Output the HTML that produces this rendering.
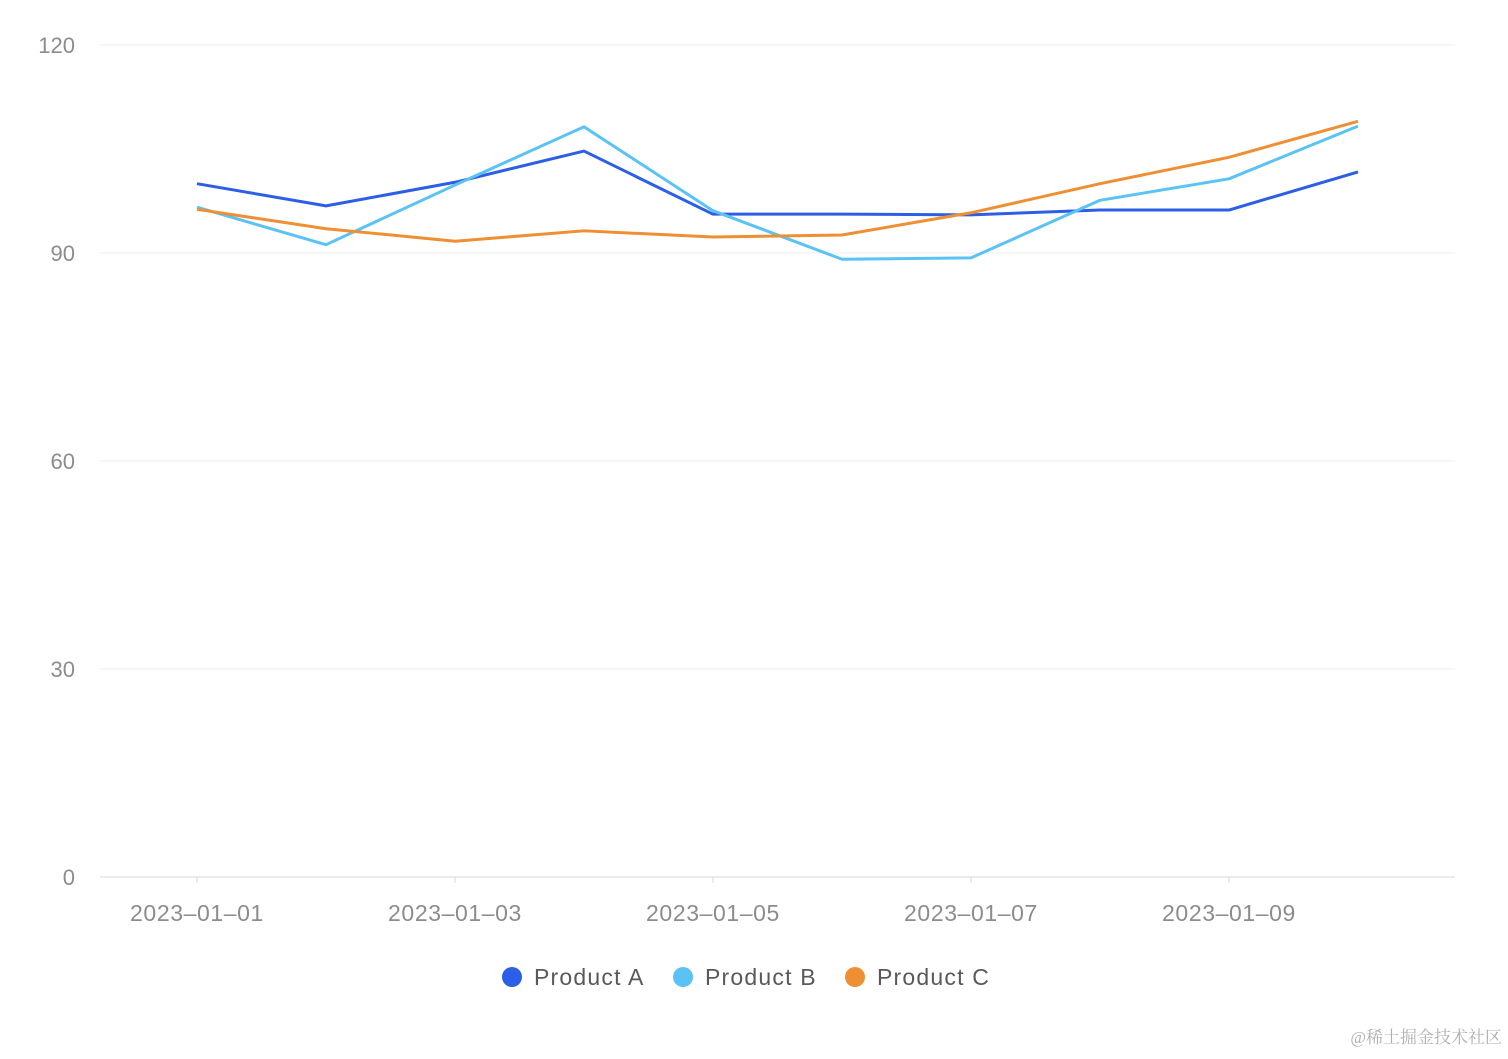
<!DOCTYPE html>
<html><head><meta charset="utf-8"><style>
body{margin:0;background:#fff;width:1508px;height:1054px;overflow:hidden;font-family:"Liberation Sans","Noto Sans CJK SC",sans-serif}
</style></head><body>
<svg id="chart" width="1508" height="1054" xmlns="http://www.w3.org/2000/svg"></svg>
<div style="position:absolute;right:6px;bottom:6px;font-size:17px;color:#b0b0b0;font-family:'Liberation Serif','Noto Serif CJK SC',serif">@稀土掘金技术社区</div>
<script>
const categories=["2023-01-01","2023-01-02","2023-01-03","2023-01-04","2023-01-05","2023-01-06","2023-01-07","2023-01-08","2023-01-09","2023-01-10"];
const productA=[100,96.8,100.2,104.7,95.6,95.6,95.5,96.2,96.2,101.7];
const productB=[96.6,91.2,99.8,108.2,96.1,89.1,89.3,97.6,100.7,108.3];
const productC=[96.3,93.5,91.7,93.2,92.3,92.6,95.8,100,103.8,109];
const yTicks=[0,30,60,90,120];
const seriesNames=["Product A","Product B","Product C"];
const colors=["#2d5ee8","#5bc2f5","#ef8f33"];
const svg=document.getElementById('chart');
const NS="http://www.w3.org/2000/svg";
const X0=197,XSTEP=129,Y0=877,Y1=45,VMAX=120;
const xs=i=>X0+i*XSTEP;
const ys=v=>Y0-(v/VMAX)*(Y0-Y1);
function mk(t,a){const e=document.createElementNS(NS,t);for(const k in a)e.setAttribute(k,a[k]);svg.appendChild(e);return e;}
yTicks.forEach(v=>{
 const l=mk('line',{x1:100,x2:1455,y1:ys(v),y2:ys(v),stroke:v===0?'#d9d9d9':'#ececec','stroke-width':1});
 
 
 const t=mk('text',{x:75,y:ys(v)+8,'text-anchor':'end','font-size':22,fill:'#8c8c8c'});
 t.textContent=v;
 
 
});
categories.forEach((c,i)=>{
 if(i%2) return;
 const tk=mk('line',{x1:xs(i),x2:xs(i),y1:Y0,y2:Y0+6,stroke:'#d9d9d9'});
 
 
 const t=mk('text',{x:xs(i),y:921,'text-anchor':'middle','font-size':23,'letter-spacing':0.6,fill:'#8c8c8c'});
 t.textContent=c.replace(/-/g,'\u2013');
 
 
});
[productA,productB,productC].forEach((s,k)=>{
 const p=mk('polyline',{points:s.map((v,i)=>xs(i)+','+ys(v)).join(' '),fill:'none',stroke:colors[k],'stroke-width':3,'stroke-linejoin':'round'});
 
 
});
const lx=[512,683,855];
seriesNames.forEach((n,k)=>{
 const c=mk('circle',{cx:lx[k],cy:977,r:10,fill:colors[k]});
 
 
 const t=mk('text',{x:lx[k]+22,y:985,'font-size':23,'letter-spacing':1.2,fill:'#595959'});
 t.textContent=n;
 
 
});
</script>
</body></html>
